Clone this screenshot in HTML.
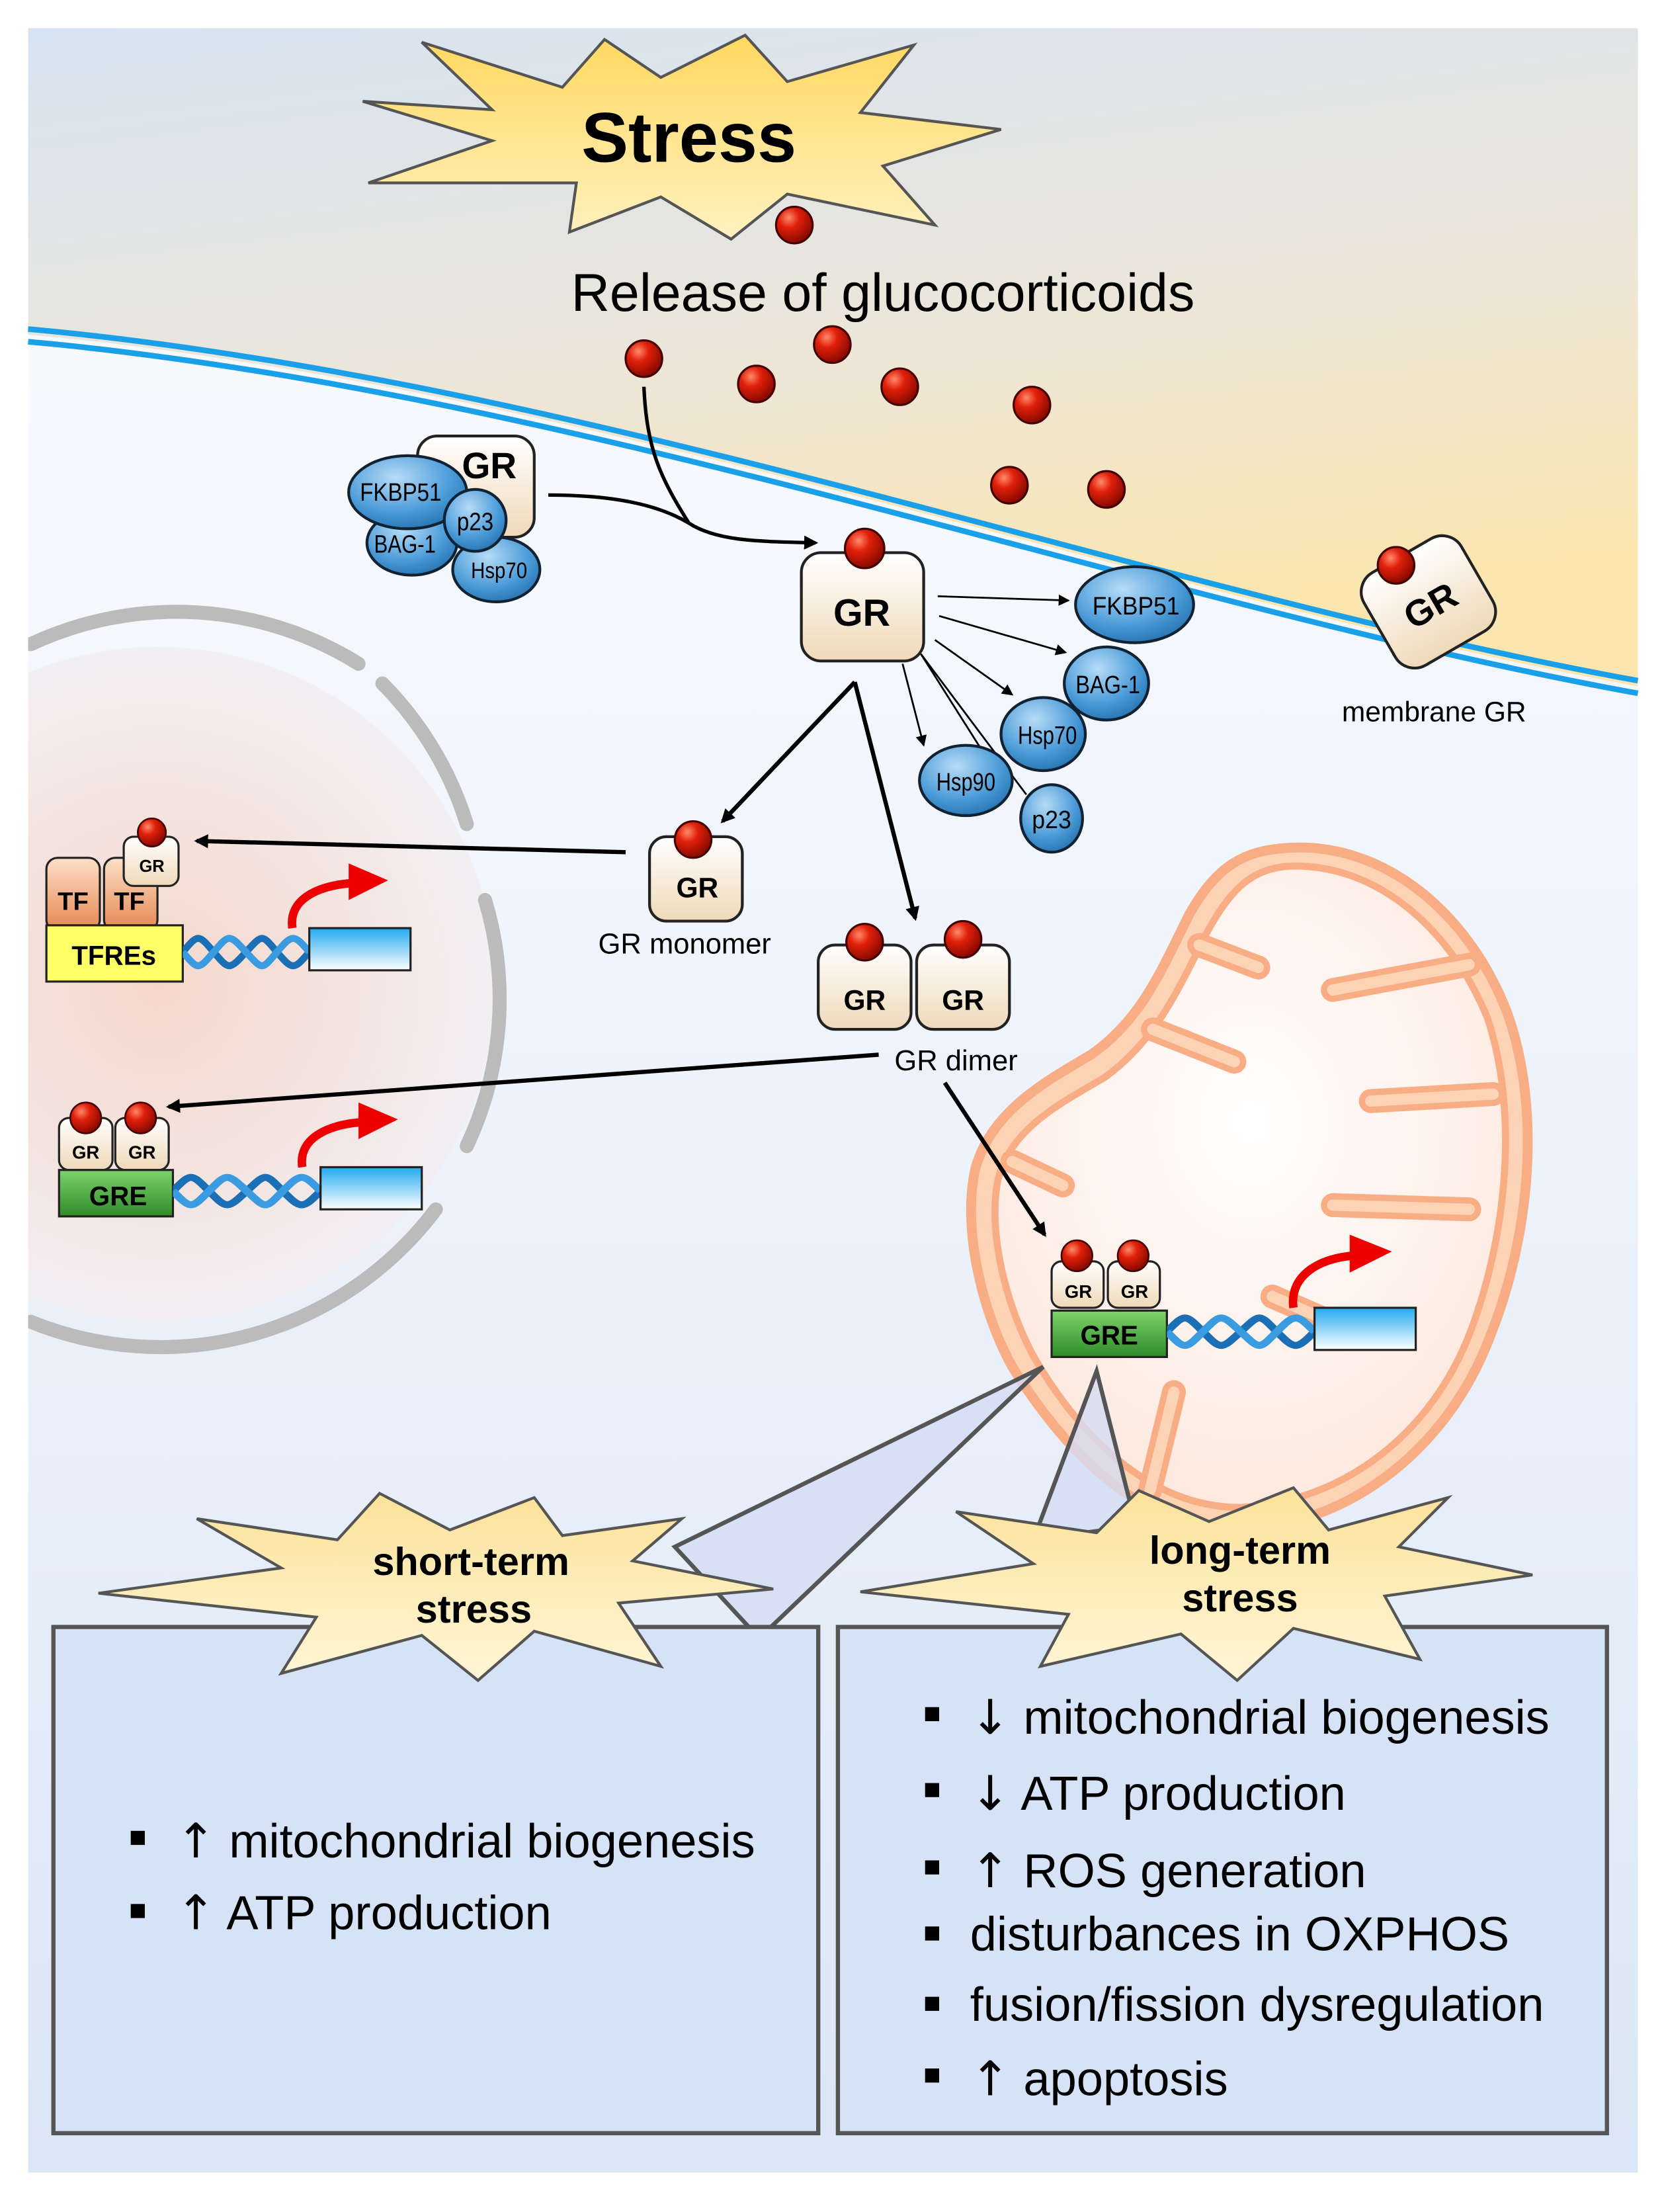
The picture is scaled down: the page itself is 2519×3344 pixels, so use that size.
<!DOCTYPE html>
<html><head><meta charset="utf-8"><style>
html,body{margin:0;padding:0;background:#fff}
svg{display:block}
text{font-family:"Liberation Sans",Arial,sans-serif}
.ar{font-family:"DejaVu Sans",sans-serif}
</style></head><body>
<svg width="2519" height="3344" viewBox="0 0 1185 1573" xmlns="http://www.w3.org/2000/svg">
<defs>
<linearGradient id="topbg" x1="0" y1="0" x2="0.3" y2="1">
<stop offset="0" stop-color="#d6e3f2"/><stop offset="0.6" stop-color="#ede6d8"/><stop offset="1" stop-color="#fbe6b0"/></linearGradient>
<linearGradient id="cellbg" x1="0" y1="0" x2="0" y2="1">
<stop offset="0" stop-color="#fbfcfe"/><stop offset="0.5" stop-color="#eef3fb"/><stop offset="1" stop-color="#dbe6f6"/></linearGradient>
<radialGradient id="nuc" cx="0.5" cy="0.5" r="0.5">
<stop offset="0" stop-color="#f6d3c4"/><stop offset="0.6" stop-color="#f5e2dc"/><stop offset="1" stop-color="#f2eef2"/></radialGradient>
<radialGradient id="mito" cx="0.5" cy="0.4" r="0.6">
<stop offset="0" stop-color="#ffffff"/><stop offset="1" stop-color="#fde9df"/></radialGradient>
<radialGradient id="ball" cx="0.35" cy="0.3" r="0.7">
<stop offset="0" stop-color="#ff8a6a"/><stop offset="0.4" stop-color="#e0200a"/><stop offset="1" stop-color="#8a0a00"/></radialGradient>
<linearGradient id="grbox" x1="0" y1="0" x2="0" y2="1">
<stop offset="0" stop-color="#ffffff"/><stop offset="1" stop-color="#efd9b8"/></linearGradient>
<radialGradient id="blue" cx="0.4" cy="0.3" r="0.8">
<stop offset="0" stop-color="#b6dcf7"/><stop offset="0.6" stop-color="#4a9ad8"/><stop offset="1" stop-color="#1e6aa8"/></radialGradient>
<linearGradient id="bbox" x1="0" y1="0" x2="0" y2="1">
<stop offset="0" stop-color="#22aaf0"/><stop offset="1" stop-color="#ffffff"/></linearGradient>
<linearGradient id="tf" x1="0" y1="0" x2="0" y2="1">
<stop offset="0" stop-color="#fde0c8"/><stop offset="1" stop-color="#e58650"/></linearGradient>
<linearGradient id="star" x1="0" y1="0" x2="0" y2="1">
<stop offset="0" stop-color="#ffd860"/><stop offset="1" stop-color="#fff2c0"/></linearGradient>
<linearGradient id="star2" x1="0" y1="0" x2="0" y2="1">
<stop offset="0" stop-color="#fbe29a"/><stop offset="1" stop-color="#fff6d6"/></linearGradient>
<linearGradient id="gre" x1="0" y1="0" x2="0" y2="1">
<stop offset="0" stop-color="#7ed26a"/><stop offset="1" stop-color="#2f8c2a"/></linearGradient>
<marker id="ah" markerWidth="10" markerHeight="10" refX="8" refY="5" orient="auto" markerUnits="userSpaceOnUse"><path d="M0,0 L10,5 L0,10 z" fill="#000"/></marker>
<marker id="ahs" markerWidth="8" markerHeight="8" refX="7" refY="4" orient="auto" markerUnits="userSpaceOnUse"><path d="M0,0 L8,4 L0,8 z" fill="#000"/></marker>
<symbol id="helix" viewBox="0 0 90 26" preserveAspectRatio="none">
<path d="M0,13 C11,0 11,0 22,13 S33,26 45,13 S56,0 67,13 S79,26 90,13" fill="none" stroke="#1a6fb5" stroke-width="5"/>
<path d="M0,13 C11,26 11,26 22,13 S33,0 45,13 S56,26 67,13 S79,0 90,13" fill="none" stroke="#3a9be0" stroke-width="5"/>
</symbol>
<clipPath id="frame"><rect x="20" y="20" width="1145" height="1525"/></clipPath>
</defs>
<rect width="1185" height="1573" fill="#fff"/>
<rect x="20" y="20" width="1145" height="1525" fill="url(#cellbg)"/>
<path d="M20,20 H1165 V488 C900,440 600,340 300,280 C200,260 100,245 20,238 Z" fill="url(#topbg)"/>
<path d="M20,234 C100,241 200,256 300,276 C600,336 900,436 1165,484" fill="none" stroke="#1aa0e8" stroke-width="4"/>
<path d="M20,243 C100,250 200,265 300,285 C600,345 900,445 1165,493" fill="none" stroke="#1aa0e8" stroke-width="4"/>
<!-- nucleus -->
<g clip-path="url(#frame)">
<circle cx="112" cy="700" r="240" fill="url(#nuc)" opacity="0.85"/>
<g fill="none" stroke="#bbb" stroke-width="10" stroke-linecap="round">
<path d="M22,458 A245,245 0 0 1 255,472"/>
<path d="M272,486 A245,245 0 0 1 332,586"/>
<path d="M345,640 A245,245 0 0 1 332,815"/>
<path d="M310,860 A245,245 0 0 1 22,940"/>
</g>
</g>
<!-- mitochondrion -->
<path d="M915,603 C985,598 1045,650 1072,720 C1097,790 1088,880 1060,950 C1030,1030 960,1085 880,1088 C800,1088 745,1012 720,972 C698,932 684,872 694,830 C706,790 742,770 776,750 C812,725 826,690 846,650 C866,615 885,605 915,603 Z" fill="#fdd3b6" stroke="#f8ad85" stroke-width="7"/>
<path d="M916,616 C978,613 1032,660 1058,724 C1080,790 1072,876 1047,944 C1020,1018 957,1068 882,1072 C808,1072 758,1004 736,966 C716,930 702,876 710,838 C720,802 752,786 786,766 C822,740 838,704 858,664 C876,630 892,618 916,616 Z" fill="url(#mito)" stroke="#f8ad85" stroke-width="5"/>
<g stroke-linecap="round" fill="none">
<g stroke="#f8ad85" stroke-width="17">
<path d="M853,672 L895,688"/><path d="M1045,686 L948,704"/><path d="M820,732 L878,755"/><path d="M1062,778 L975,783"/>
<path d="M1045,860 L948,857"/><path d="M720,826 L756,843"/><path d="M905,922 L967,949"/><path d="M818,1060 L835,990"/>
</g>
<g stroke="#fdd3b6" stroke-width="8">
<path d="M853,672 L895,688"/><path d="M1045,686 L948,704"/><path d="M820,732 L878,755"/><path d="M1062,778 L975,783"/>
<path d="M1045,860 L948,857"/><path d="M720,826 L756,843"/><path d="M905,922 L967,949"/><path d="M818,1060 L835,990"/>
</g>
</g>
<!-- Stress star -->
<polygon points="300,30 400,62 430,28 470,55 530,25 560,58 650,32 612,80 712,92 628,118 665,160 560,138 520,170 470,140 405,165 410,130 262,130 350,100 258,72 350,78" fill="url(#star)" stroke="#555" stroke-width="2"/>
<text x="490" y="115" font-size="50" font-weight="bold" text-anchor="middle">Stress</text>
<text x="628" y="221" font-size="38" text-anchor="middle">Release of glucocorticoids</text>
<g stroke="#400" stroke-width="1.5" fill="url(#ball)">
<circle cx="565" cy="160" r="13"/><circle cx="458" cy="255" r="13"/><circle cx="538" cy="273" r="13"/><circle cx="592" cy="245" r="13"/><circle cx="640" cy="275" r="13"/><circle cx="734" cy="288" r="13"/><circle cx="718" cy="345" r="13"/><circle cx="787" cy="348" r="13"/>
</g>
<!-- GR complex -->
<rect x="297" y="310" width="83" height="72" rx="14" fill="url(#grbox)" stroke="#222" stroke-width="2"/>
<text x="348" y="340" font-size="26" font-weight="bold" text-anchor="middle">GR</text>
<g stroke="#123" stroke-width="2" fill="url(#blue)">
<ellipse cx="353" cy="405" rx="31" ry="23"/>
<ellipse cx="293" cy="386" rx="32" ry="23"/>
<ellipse cx="290" cy="350" rx="42" ry="26"/>
<circle cx="338" cy="370" r="22"/>
</g>
<g font-size="18" text-anchor="middle"><text x="285" y="356" textLength="58" lengthAdjust="spacingAndGlyphs">FKBP51</text><text x="338" y="377" textLength="26" lengthAdjust="spacingAndGlyphs">p23</text><text x="288" y="393" textLength="44" lengthAdjust="spacingAndGlyphs">BAG-1</text><text x="355" y="411" font-size="16" textLength="40" lengthAdjust="spacingAndGlyphs">Hsp70</text></g>
<path d="M390,352 C440,352 470,360 490,372 C510,385 540,385 580,386" fill="none" stroke="#000" stroke-width="2.5" marker-end="url(#ah)"/>
<path d="M458,275 C460,320 470,340 490,372" fill="none" stroke="#000" stroke-width="2.5"/>
<!-- central GR -->
<rect x="570" y="393" width="87" height="77" rx="14" fill="url(#grbox)" stroke="#222" stroke-width="2"/>
<circle cx="615" cy="390" r="14" fill="url(#ball)" stroke="#400" stroke-width="1.5"/>
<text x="613" y="445" font-size="27" font-weight="bold" text-anchor="middle">GR</text>
<g stroke="#000" stroke-width="1.3" marker-end="url(#ahs)">
<line x1="667" y1="424" x2="760" y2="427"/>
<line x1="668" y1="438" x2="758" y2="464"/>
<line x1="665" y1="455" x2="720" y2="494"/>
<line x1="655" y1="465" x2="712" y2="555"/>
<line x1="642" y1="472" x2="657" y2="530"/>
</g>
<line x1="655" y1="465" x2="730" y2="565" stroke="#000" stroke-width="1.3"/>
<g stroke="#123" stroke-width="2" fill="url(#blue)">
<ellipse cx="807" cy="430" rx="42" ry="27"/>
<ellipse cx="787" cy="486" rx="30" ry="26"/>
<ellipse cx="742" cy="522" rx="30" ry="26"/>
<ellipse cx="748" cy="582" rx="22" ry="24"/>
<ellipse cx="687" cy="555" rx="33" ry="25"/>
</g>
<g font-size="18" text-anchor="middle"><text x="808" y="437" textLength="62" lengthAdjust="spacingAndGlyphs">FKBP51</text><text x="788" y="493" textLength="46" lengthAdjust="spacingAndGlyphs">BAG-1</text><text x="745" y="529" textLength="42" lengthAdjust="spacingAndGlyphs">Hsp70</text><text x="748" y="589" textLength="28" lengthAdjust="spacingAndGlyphs">p23</text><text x="687" y="562" textLength="42" lengthAdjust="spacingAndGlyphs">Hsp90</text></g>
<!-- membrane GR -->
<g transform="rotate(-30 1016 428)">
<rect x="976" y="390" width="80" height="76" rx="16" fill="url(#grbox)" stroke="#222" stroke-width="2"/>
<text x="1016" y="440" font-size="26" font-weight="bold" text-anchor="middle">GR</text>
</g>
<circle cx="993" cy="402" r="13" fill="url(#ball)" stroke="#400" stroke-width="1.5"/>
<text x="1020" y="513" font-size="20" text-anchor="middle">membrane GR</text>
<g stroke="#000" stroke-width="3" fill="none" marker-end="url(#ah)">
<line x1="608" y1="485" x2="514" y2="584"/>
<line x1="608" y1="485" x2="651" y2="653"/>
<line x1="445" y1="606" x2="140" y2="598"/>
<line x1="625" y1="750" x2="120" y2="787"/>
<line x1="672" y1="770" x2="743" y2="878"/>
</g>
<!-- GR monomer -->
<rect x="462" y="595" width="66" height="60" rx="12" fill="url(#grbox)" stroke="#222" stroke-width="2"/>
<circle cx="493" cy="597" r="13" fill="url(#ball)" stroke="#400" stroke-width="1.5"/>
<text x="496" y="638" font-size="20" font-weight="bold" text-anchor="middle">GR</text>
<text x="487" y="678" font-size="20.5" text-anchor="middle">GR monomer</text>
<!-- GR dimer -->
<rect x="582" y="672" width="66" height="60" rx="12" fill="url(#grbox)" stroke="#222" stroke-width="2"/>
<rect x="652" y="672" width="66" height="60" rx="12" fill="url(#grbox)" stroke="#222" stroke-width="2"/>
<circle cx="615" cy="670" r="13" fill="url(#ball)" stroke="#400" stroke-width="1.5"/>
<circle cx="685" cy="668" r="13" fill="url(#ball)" stroke="#400" stroke-width="1.5"/>
<text x="615" y="718" font-size="20" font-weight="bold" text-anchor="middle">GR</text>
<text x="685" y="718" font-size="20" font-weight="bold" text-anchor="middle">GR</text>
<text x="680" y="761" font-size="20.5" text-anchor="middle">GR dimer</text>
<!-- TF complex -->
<rect x="33" y="610" width="38" height="52" rx="8" fill="url(#tf)" stroke="#222" stroke-width="1.5"/>
<rect x="74" y="610" width="38" height="52" rx="8" fill="url(#tf)" stroke="#222" stroke-width="1.5"/>
<text x="52" y="647" font-size="18" font-weight="bold" text-anchor="middle">TF</text>
<text x="92" y="647" font-size="18" font-weight="bold" text-anchor="middle">TF</text>
<rect x="88" y="595" width="39" height="35" rx="7" fill="url(#grbox)" stroke="#222" stroke-width="1.5"/>
<circle cx="108" cy="592" r="10" fill="url(#ball)" stroke="#400" stroke-width="1.2"/>
<text x="108" y="620" font-size="12" font-weight="bold" text-anchor="middle">GR</text>
<rect x="33" y="658" width="97" height="40" fill="#ffff66" stroke="#222" stroke-width="1.5"/>
<text x="81" y="686" font-size="19" font-weight="bold" text-anchor="middle">TFREs</text>
<use href="#helix" x="130" y="664" width="90" height="26"/>
<rect x="220" y="660" width="72" height="30" fill="url(#bbox)" stroke="#222" stroke-width="1.5"/>
<path d="M208,660 C205,640 225,630 250,628" fill="none" stroke="#e00" stroke-width="6"/>
<polygon points="248,614 276,626 248,640" fill="#e00"/>
<!-- nucleus GRE -->
<rect x="42" y="795" width="38" height="37" rx="7" fill="url(#grbox)" stroke="#222" stroke-width="1.5"/>
<rect x="82" y="795" width="38" height="37" rx="7" fill="url(#grbox)" stroke="#222" stroke-width="1.5"/>
<circle cx="61" cy="795" r="11" fill="url(#ball)" stroke="#400" stroke-width="1.2"/>
<circle cx="100" cy="795" r="11" fill="url(#ball)" stroke="#400" stroke-width="1.2"/>
<text x="61" y="824" font-size="13" font-weight="bold" text-anchor="middle">GR</text>
<text x="101" y="824" font-size="13" font-weight="bold" text-anchor="middle">GR</text>
<rect x="42" y="832" width="81" height="33" fill="url(#gre)" stroke="#222" stroke-width="1.5"/>
<text x="84" y="857" font-size="19" font-weight="bold" text-anchor="middle">GRE</text>
<use href="#helix" x="123" y="834" width="105" height="26"/>
<rect x="228" y="830" width="72" height="30" fill="url(#bbox)" stroke="#222" stroke-width="1.5"/>
<path d="M215,830 C212,810 232,800 257,798" fill="none" stroke="#e00" stroke-width="6"/>
<polygon points="255,784 283,796 255,810" fill="#e00"/>
<!-- mito GRE -->
<rect x="748" y="897" width="37" height="33" rx="7" fill="url(#grbox)" stroke="#222" stroke-width="1.5"/>
<rect x="788" y="897" width="37" height="33" rx="7" fill="url(#grbox)" stroke="#222" stroke-width="1.5"/>
<circle cx="766" cy="893" r="11" fill="url(#ball)" stroke="#400" stroke-width="1.2"/>
<circle cx="806" cy="893" r="11" fill="url(#ball)" stroke="#400" stroke-width="1.2"/>
<text x="767" y="923" font-size="13" font-weight="bold" text-anchor="middle">GR</text>
<text x="807" y="923" font-size="13" font-weight="bold" text-anchor="middle">GR</text>
<rect x="748" y="932" width="82" height="33" fill="url(#gre)" stroke="#222" stroke-width="1.5"/>
<text x="789" y="956" font-size="19" font-weight="bold" text-anchor="middle">GRE</text>
<use href="#helix" x="830" y="934" width="105" height="26"/>
<rect x="935" y="930" width="72" height="30" fill="url(#bbox)" stroke="#222" stroke-width="1.5"/>
<path d="M920,930 C917,908 937,895 962,893" fill="none" stroke="#e00" stroke-width="6"/>
<polygon points="960,878 990,890 960,905" fill="#e00"/>
<!-- callouts -->
<polygon points="742,972 480,1100 540,1165" fill="#d4dcf4" fill-opacity="0.8" stroke="#555" stroke-width="3"/>
<polygon points="780,975 735,1095 808,1085" fill="#d4dcf4" fill-opacity="0.8" stroke="#555" stroke-width="3"/>
<rect x="38" y="1157" width="544" height="360" fill="#d6e2f6" stroke="#555" stroke-width="3"/>
<rect x="596" y="1157" width="547" height="360" fill="#d6e2f6" stroke="#555" stroke-width="3"/>
<polygon points="140,1080 240,1095 270,1062 320,1088 380,1065 400,1092 485,1080 450,1110 550,1130 440,1140 470,1185 380,1160 340,1195 300,1163 200,1190 225,1150 70,1133 200,1115" fill="url(#star2)" stroke="#555" stroke-width="2"/>
<text x="335" y="1120" font-size="28" font-weight="bold" text-anchor="middle">short-term</text>
<text x="337" y="1154" font-size="28" font-weight="bold" text-anchor="middle">stress</text>
<polygon points="680,1075 780,1090 810,1060 860,1082 920,1058 945,1088 1030,1065 995,1100 1090,1120 985,1135 1010,1180 920,1158 880,1195 840,1162 740,1185 760,1148 612,1132 735,1112" fill="url(#star2)" stroke="#555" stroke-width="2"/>
<text x="882" y="1112" font-size="28" font-weight="bold" text-anchor="middle">long-term</text>
<text x="882" y="1146" font-size="28" font-weight="bold" text-anchor="middle">stress</text>
<g font-size="34">
<rect x="93" y="1302" width="10" height="10"/><text x="125" y="1321"><tspan class="ar">↑</tspan> mitochondrial biogenesis</text>
<rect x="93" y="1354" width="10" height="10"/><text x="125" y="1372"><tspan class="ar">↑</tspan> ATP production</text>
<rect x="658" y="1214" width="10" height="10"/><text x="690" y="1233"><tspan class="ar">↓</tspan> mitochondrial biogenesis</text>
<rect x="658" y="1268" width="10" height="10"/><text x="690" y="1287"><tspan class="ar">↓</tspan> ATP production</text>
<rect x="658" y="1323" width="10" height="10"/><text x="690" y="1342"><tspan class="ar">↑</tspan> ROS generation</text>
<rect x="658" y="1370" width="10" height="10"/><text x="690" y="1387">disturbances in OXPHOS</text>
<rect x="658" y="1420" width="10" height="10"/><text x="690" y="1437">fusion/fission dysregulation</text>
<rect x="658" y="1471" width="10" height="10"/><text x="690" y="1490"><tspan class="ar">↑</tspan> apoptosis</text>
</g>
</svg>
</body></html>
